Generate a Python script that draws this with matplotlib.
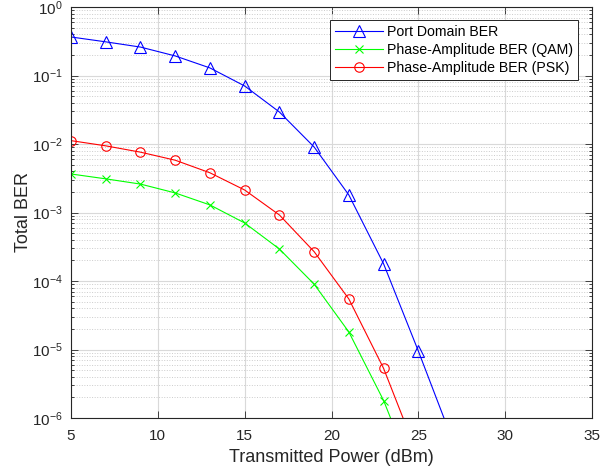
import numpy as np
import matplotlib
matplotlib.use("Agg")
import matplotlib.pyplot as plt
from matplotlib.ticker import LogLocator, FixedLocator, NullFormatter, LogFormatterSciNotation

plt.rcParams['font.family'] = ['Liberation Sans', 'DejaVu Sans']
plt.rcParams['mathtext.fontset'] = 'custom'
plt.rcParams['mathtext.rm'] = 'Liberation Sans'
plt.rcParams['mathtext.it'] = 'Liberation Sans:italic'
plt.rcParams['mathtext.bf'] = 'Liberation Sans:bold'

# Data
power_dbm = [5, 7, 9, 11, 13, 15, 17, 19, 21, 23, 25, 27, 29, 31, 33, 35]
ber_port = [0.365, 0.31, 0.26, 0.193, 0.129, 0.0703, 0.0293, 0.00904, 0.0018,
            1.78e-4, 9.5e-6, 4.5e-7, 1.0e-8, 1.5e-10, 1.5e-12, 1.0e-14]
ber_qam = [3.65e-3, 3.1e-3, 2.6e-3, 1.93e-3, 1.29e-3, 7.03e-4, 2.93e-4, 9.0e-5,
           1.8e-5, 1.8e-6, 9.5e-8, 4.5e-9, 1.0e-10, 1.5e-12, 1.5e-14, 1.0e-16]
ber_psk = [0.0112, 0.0094, 0.0076, 0.0058, 0.0038, 0.00213, 9.2e-4, 2.68e-4,
           5.46e-5, 5.3e-6, 2.7e-7, 1.0e-8, 2.0e-10, 3.0e-12, 3.0e-14, 2.0e-16]
labels = ['Port Domain BER', 'Phase-Amplitude BER (QAM)', 'Phase-Amplitude BER (PSK)']
xticks = [5, 10, 15, 20, 25, 30, 35]

fig = plt.figure(figsize=(6.15, 4.72), dpi=100)
ax = fig.add_axes([71/615, 1-418/472, (592-71)/615, (418-7)/472])

ax.semilogy(power_dbm, ber_port, color=(0, 0, 1), marker='^', markersize=8.5,
            markerfacecolor='none', linewidth=0.8, markeredgewidth=0.8, label=labels[0])
ax.semilogy(power_dbm, ber_qam, color=(0, 1, 0), marker='x', markersize=6,
            linewidth=0.8, markeredgewidth=0.8, label=labels[1])
ax.semilogy(power_dbm, ber_psk, color=(1, 0, 0), marker='o', markersize=6.8,
            markerfacecolor='none', linewidth=0.8, markeredgewidth=0.8, label=labels[2])

ax.set_xlim(5, 35)
ax.set_ylim(1e-6, 1)
ax.xaxis.set_major_locator(FixedLocator(xticks))
ax.yaxis.set_major_locator(LogLocator(base=10, numticks=20))
ax.yaxis.set_minor_locator(LogLocator(base=10, subs=np.arange(2, 10), numticks=20))
ax.yaxis.set_minor_formatter(NullFormatter())
ax.yaxis.set_major_formatter(LogFormatterSciNotation())

ax.grid(True, which='major', color=(0.85, 0.85, 0.85), linestyle='-', linewidth=0.8)
ax.grid(True, which='minor', axis='y', color=(0.8, 0.8, 0.8), linestyle=':', linewidth=0.7)
ax.set_axisbelow(True)

dark = (0.15, 0.15, 0.15)
for s in ax.spines.values():
    s.set_color(dark)
    s.set_linewidth(0.8)
ax.tick_params(which='both', direction='in', top=True, right=True, colors=dark,
               labelcolor=dark, labelsize=11, width=0.6)
ax.tick_params(which='major', length=5)
ax.tick_params(axis='x', which='major', pad=8)
ax.tick_params(axis='y', which='major', pad=6)
ax.tick_params(which='minor', length=2.5)

ax.set_xlabel('Transmitted Power (dBm)', fontsize=13, color=dark, labelpad=4)
ax.set_ylabel('Total BER', fontsize=13, color=dark, labelpad=0)

leg = ax.legend(loc='upper right', bbox_to_anchor=((578-71)/521, (418-20)/411),
                fontsize=10.2, fancybox=False, framealpha=1, edgecolor=dark,
                handlelength=3.4, handletextpad=0.3, borderpad=0.35, labelspacing=0.3,
                borderaxespad=0)
leg.get_frame().set_linewidth(0.7)

fig.savefig('out.png', dpi=100)
